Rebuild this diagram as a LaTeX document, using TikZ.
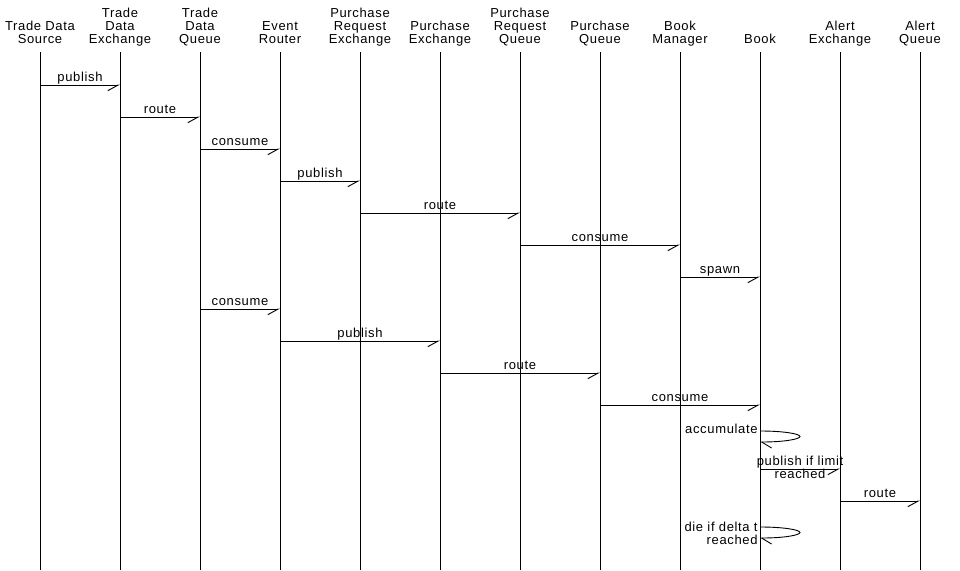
\documentclass[tikz,border=0pt]{standalone}
\usepackage{fontspec}
\setmainfont{Liberation Sans}[LetterSpace=5]
\usetikzlibrary{arrows.meta}
\begin{document}
\begin{tikzpicture}[x=1pt,y=-1pt,line width=0.9pt,
  every node/.style={font=\fontsize{13}{13}\selectfont, inner sep=0pt},
  head/.style={anchor=south, align=center, text depth=3pt},
  msg/.style={-{Straight Barb[right,length=10.5pt,width=11.4pt]}},
  loopmsg/.style={-{Straight Barb[left,length=10pt,width=12pt]}},
  lbl/.style={anchor=base, yshift=4pt}]
\useasboundingbox[fill=white] (0,0) rectangle (960,570);
% headers
\node[head] (h1) at (40,47) {Trade Data\\Source};
\node[head] (h2) at (120,47) {Trade\\Data\\Exchange};
\node[head] (h3) at (200,47) {Trade\\Data\\Queue};
\node[head] (h4) at (280,47) {Event\\Router};
\node[head] (h5) at (360,47) {Purchase\\Request\\Exchange};
\node[head] (h6) at (440,47) {Purchase\\Exchange};
\node[head] (h7) at (520,47) {Purchase\\Request\\Queue};
\node[head] (h8) at (600,47) {Purchase\\Queue};
\node[head] (h9) at (680,47) {Book\\Manager};
\node[head] (h10) at (760,47) {Book};
\node[head] (h11) at (840,47) {Alert\\Exchange};
\node[head] (h12) at (920,47) {Alert\\Queue};
% lifelines
\foreach \i in {1,...,12}{
  \coordinate (t\i) at (\i*80-40,52);
  \coordinate (b\i) at (\i*80-40,570);
  \draw (t\i) -- (b\i);
}
% rows
\foreach \n/\y in {1/85,2/117,3/149,4/181,5/213,6/245,7/277,8/309,9/341,10/373,11/405,12/469,13/501}{
  \coordinate (r\n) at (0,\y);
}
% messages
\draw[msg] (t1|-r1) -- node[lbl] {publish} (t2|-r1);
\draw[msg] (t2|-r2) -- node[lbl] {route} (t3|-r2);
\draw[msg] (t3|-r3) -- node[lbl] {consume} (t4|-r3);
\draw[msg] (t4|-r4) -- node[lbl] {publish} (t5|-r4);
\draw[msg] (t5|-r5) -- node[lbl] {route} (t7|-r5);
\draw[msg] (t7|-r6) -- node[lbl] {consume} (t9|-r6);
\draw[msg] (t9|-r7) -- node[lbl] {spawn} (t10|-r7);
\draw[msg] (t3|-r8) -- node[lbl] {consume} (t4|-r8);
\draw[msg] (t4|-r9) -- node[lbl] {publish} (t6|-r9);
\draw[msg] (t6|-r10) -- node[lbl] {route} (t8|-r10);
\draw[msg] (t8|-r11) -- node[lbl] {consume} (t10|-r11);
% self loop: accumulate
\coordinate (s1) at (760,431);
\coordinate (e1) at (760,442);
\draw[loopmsg] (s1) .. controls (785,431) and (800,434) .. (800,436.5)
  .. controls (800,439) and (785,442) .. (e1);
\node[anchor=base east] (acc) at (758,433) {accumulate};
% publish if limit reached
\draw[msg] (t10|-r12) -- (t11|-r12);
\node[anchor=north, align=center] (pil) at (800,456) {publish if limit\\reached};
\draw[msg] (t11|-r13) -- node[lbl] {route} (t12|-r13);
% self loop: die
\coordinate (s2) at (760,527);
\coordinate (e2) at (760,538);
\draw[loopmsg] (s2) .. controls (785,527) and (800,530) .. (800,532.5)
  .. controls (800,535) and (785,538) .. (e2);
\node[anchor=north east, align=right] (die) at (758,521.5) {die if delta t\\reached};
\end{tikzpicture}
\end{document}
